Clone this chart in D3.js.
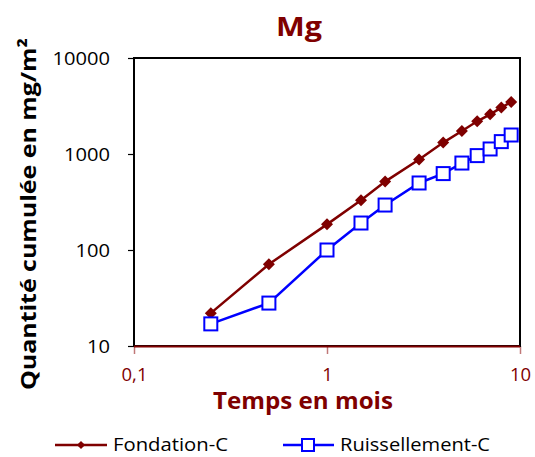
<!DOCTYPE html>
<html><head><meta charset="utf-8">
<script src="https://cdn.jsdelivr.net/npm/d3@7"></script>
<style>body{margin:0;background:#fff}svg{display:block}</style>
</head><body>
<svg id="c" width="535" height="457"></svg>
<script>
const months = [0.25, 0.5, 1, 1.5, 2, 3, 4, 5, 6, 7, 8, 9];
const fondation = [22, 71, 185, 330, 516, 875, 1315, 1737, 2190, 2590, 3045, 3480];
const ruissellement = [17, 28, 100, 191, 294, 499, 625, 805, 962, 1128, 1346, 1577];
const xTicks = [0.1, 1, 10];
const xTickLabels = ["0,1", "1", "10"];
const yTicks = [10, 100, 1000, 10000];
const seriesNames = ["Fondation-C", "Ruissellement-C"];

const RED = "#7f0000", BLUE = "#0000ff";
const FONT = "'Open Sans', Lato, sans-serif";
const svg = d3.select("#c");
const L = 134, R = 520, T = 58, B = 346;
const x = d3.scaleLog().domain([0.1, 10]).range([L, R]);
const y = d3.scaleLog().domain([10, 10000]).range([B, T]);

// title
svg.append("text").attr("x", 299).attr("y", 36).attr("text-anchor", "middle")
  .attr("font-family", FONT).attr("font-weight", "bold").attr("font-size", 27)
  .attr("textLength", 46).attr("lengthAdjust", "spacingAndGlyphs")
  .attr("fill", RED).text("Mg");

// y axis
const ya = svg.append("g").attr("transform", `translate(${L},0)`)
  .call(d3.axisLeft(y).tickValues(yTicks).tickFormat(d3.format("d")).tickSize(6).tickSizeOuter(0));
ya.select(".domain").remove();
ya.selectAll("line").attr("stroke", "#000").attr("stroke-width", 1.2);
ya.selectAll("text").attr("font-family", FONT).attr("font-size", 18).attr("fill", "#000")
  .attr("x", -24).attr("dy", "0.36em")
  .attr("textLength", d => String(d).length * 11.5).attr("lengthAdjust", "spacingAndGlyphs");

// x axis
const xa = svg.append("g").attr("transform", `translate(0,${B})`)
  .call(d3.axisBottom(x).tickValues(xTicks).tickFormat((d, i) => xTickLabels[i]).tickSize(8).tickSizeOuter(0));
xa.select(".domain").remove();
xa.selectAll("line").attr("stroke", "#c07878").attr("stroke-width", 1.5);
xa.selectAll("text").attr("font-family", FONT).attr("font-size", 18.5).attr("fill", RED)
  .attr("y", 35).attr("dy", 0);

// frame
svg.append("rect").attr("x", L).attr("y", T).attr("width", R - L).attr("height", B - T)
  .attr("fill", "none").attr("stroke", "#000").attr("stroke-width", 2);
svg.append("line").attr("x1", L).attr("x2", R).attr("y1", B + 0.5).attr("y2", B + 0.5)
  .attr("stroke", RED).attr("stroke-width", 2);

// axis titles
svg.append("text").attr("x", 303).attr("y", 409).attr("text-anchor", "middle")
  .attr("font-family", FONT).attr("font-weight", "bold").attr("font-size", 22.5)
  .attr("textLength", 180).attr("lengthAdjust", "spacingAndGlyphs")
  .attr("fill", RED).text("Temps en mois");
svg.append("text").attr("transform", "translate(36,214) rotate(-90)").attr("text-anchor", "middle")
  .attr("font-family", FONT).attr("font-weight", "bold").attr("font-size", 22)
  .attr("textLength", 352).attr("lengthAdjust", "spacingAndGlyphs")
  .attr("fill", "#000").text("Quantité cumulée en mg/m²");

const line = d3.line().x(d => x(d[0])).y(d => y(d[1]));
const fData = months.map((m, i) => [m, fondation[i]]);
const rData = months.map((m, i) => [m, ruissellement[i]]);

// Ruissellement line
svg.append("path").datum(rData).attr("d", line).attr("fill", "none")
  .attr("stroke", BLUE).attr("stroke-width", 2.5);
// Fondation line + markers
svg.append("path").datum(fData).attr("d", line).attr("fill", "none")
  .attr("stroke", RED).attr("stroke-width", 2.5);
svg.selectAll(".fd").data(fData).enter().append("path")
  .attr("transform", d => `translate(${x(d[0])},${y(d[1])}) rotate(45)`)
  .attr("d", d3.symbol().type(d3.symbolSquare).size(72)).attr("fill", RED);
// Ruissellement markers
svg.selectAll(".rs").data(rData).enter().append("rect")
  .attr("x", d => x(d[0]) - 6.5).attr("y", d => y(d[1]) - 6.5).attr("width", 13).attr("height", 13)
  .attr("fill", "#fff").attr("stroke", BLUE).attr("stroke-width", 2);

// legend
const LY = 445;
const lg = svg.append("g");
lg.append("line").attr("x1", 55).attr("x2", 107).attr("y1", LY).attr("y2", LY).attr("stroke", RED).attr("stroke-width", 2.5);
lg.append("path").attr("transform", `translate(81,${LY}) rotate(45)`)
  .attr("d", d3.symbol().type(d3.symbolSquare).size(34)).attr("fill", RED);
lg.append("text").attr("x", 113).attr("y", LY + 6).attr("font-family", FONT).attr("font-size", 18)
  .attr("textLength", 115).attr("lengthAdjust", "spacingAndGlyphs").text(seriesNames[0]);
lg.append("line").attr("x1", 283).attr("x2", 334).attr("y1", LY).attr("y2", LY).attr("stroke", BLUE).attr("stroke-width", 2.5);
lg.append("rect").attr("x", 302).attr("y", LY - 6).attr("width", 12).attr("height", 12)
  .attr("fill", "#fff").attr("stroke", BLUE).attr("stroke-width", 2);
lg.append("text").attr("x", 340).attr("y", LY + 6).attr("font-family", FONT).attr("font-size", 18)
  .attr("textLength", 150).attr("lengthAdjust", "spacingAndGlyphs").text(seriesNames[1]);
</script>
</body></html>
